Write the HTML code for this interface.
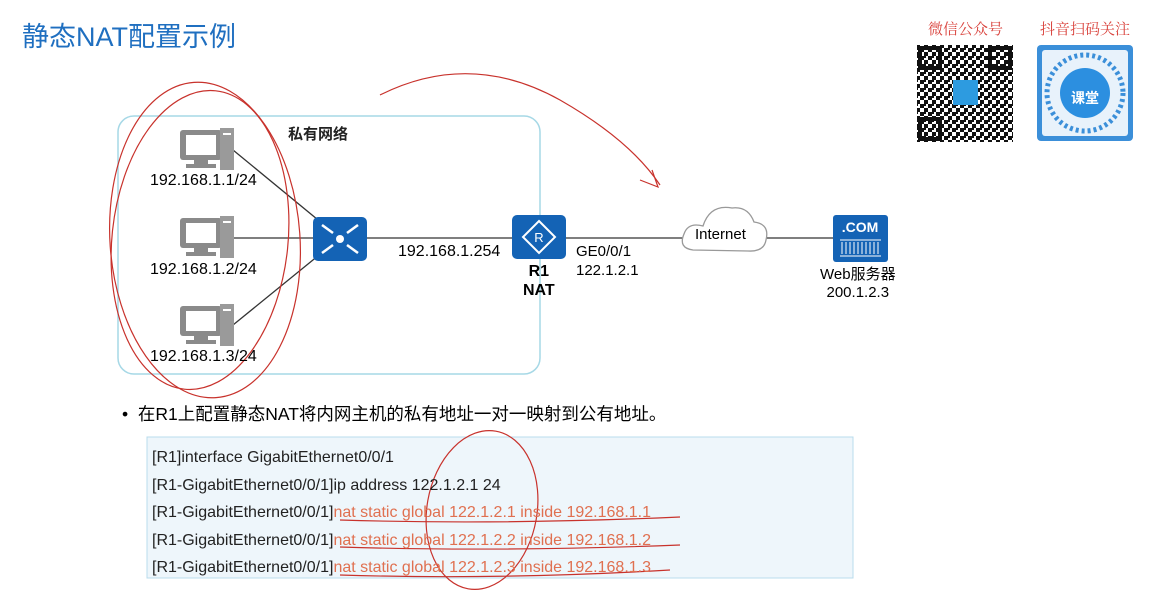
<!DOCTYPE html>
<html><head><meta charset="utf-8"><style>
body{margin:0;width:1173px;height:607px;background:#fff;overflow:hidden;font-family:"Liberation Sans","Noto Sans CJK SC",sans-serif;position:relative}
.a{position:absolute;white-space:nowrap}
</style></head><body>
<div class="a" style="left:22px;top:15px;font-size:27px;color:#1f6fc0">静态NAT配置示例</div>
<div class="a" style="left:928px;top:18px;font-size:15px;color:#d9413b;font-family:'Noto Serif CJK SC',serif">微信公众号</div>
<div class="a" style="left:1040px;top:18px;font-size:15px;color:#d9413b;font-family:'Noto Serif CJK SC',serif">抖音扫码关注</div>
<svg class="a" style="left:0;top:0" width="1173" height="607">
<defs>
<pattern id="qr" width="8" height="8" patternUnits="userSpaceOnUse"><rect width="4" height="4" fill="#111"/><rect x="4" y="4" width="4" height="4" fill="#111"/><rect x="4" width="2" height="2" fill="#111"/></pattern>
<g id="pc"><rect x="0" y="2" width="42" height="30" rx="3" fill="#8a8a8a"/><rect x="6" y="7" width="30" height="20" fill="#fff"/><rect x="14" y="32" width="14" height="4" fill="#8a8a8a"/><rect x="6" y="36" width="30" height="4" fill="#8a8a8a"/><rect x="40" y="0" width="14" height="42" fill="#9a9a9a"/><rect x="43" y="5" width="8" height="2" fill="#fff"/></g>
</defs>
<rect x="147" y="437" width="706" height="141" fill="#eef6fb" stroke="#b9dcec"/>
<rect x="118" y="116" width="422" height="258" rx="16" fill="none" stroke="#a6d8e6" stroke-width="1.5"/>
<line x1="233" y1="150" x2="340" y2="238" stroke="#333" stroke-width="1.3"/>
<line x1="233" y1="238" x2="840" y2="238" stroke="#333" stroke-width="1.3"/>
<line x1="233" y1="325" x2="340" y2="238" stroke="#333" stroke-width="1.3"/>
<use href="#pc" x="180" y="128"/><use href="#pc" x="180" y="216"/><use href="#pc" x="180" y="304"/>
<rect x="313" y="217" width="54" height="44" rx="5" fill="#1463b5"/>
<circle cx="340" cy="239" r="4" fill="#fff"/>
<g stroke="#fff" stroke-width="2.5"><line x1="322" y1="225" x2="333" y2="233"/><line x1="358" y1="225" x2="347" y2="233"/><line x1="322" y1="253" x2="333" y2="245"/><line x1="358" y1="253" x2="347" y2="245"/></g>
<rect x="512" y="215" width="54" height="44" rx="5" fill="#1463b5"/>
<path d="M539 221 L555 237 L539 253 L523 237Z" fill="none" stroke="#fff" stroke-width="2"/>
<text x="539" y="242" font-size="13" fill="#fff" text-anchor="middle">R</text>
<path d="M693 250 Q678 248 684 234 Q688 222 703 226 Q710 204 732 208 Q748 206 754 222 Q770 224 766 240 Q764 252 748 251 Z" fill="#fff" stroke="#999" stroke-width="1.3"/>
<rect x="833" y="215" width="55" height="47" rx="3" fill="#1463b5"/>
<text x="860" y="232" font-size="14" font-weight="bold" fill="#fff" text-anchor="middle">.COM</text>
<g stroke="#fff" stroke-width="1">
<line x1="840" y1="240" x2="881" y2="240"/><line x1="840" y1="256" x2="881" y2="256"/>
<path d="M842 242v12M846 242v12M850 242v12M854 242v12M858 242v12M862 242v12M866 242v12M870 242v12M874 242v12M878 242v12"/></g>
<rect x="917" y="45" width="96" height="97" fill="url(#qr)"/>
<g fill="none" stroke="#111" stroke-width="4"><rect x="920" y="48" width="20" height="20"/><rect x="990" y="48" width="20" height="20"/><rect x="920" y="119" width="20" height="20"/></g>
<rect x="953" y="80" width="25" height="25" fill="#2d9be0"/>
<rect x="1037" y="45" width="96" height="96" rx="4" fill="#3b8fd9"/>
<rect x="1042" y="50" width="86" height="86" rx="3" fill="#e8f2fb"/>
<circle cx="1085" cy="93" r="38" fill="none" stroke="#3b8fd9" stroke-width="5" stroke-dasharray="3 3"/>
<circle cx="1085" cy="93" r="25" fill="#2c8fe0"/>
<text x="1085" y="103" font-size="14" font-weight="bold" fill="#fff" text-anchor="middle" font-family="Noto Sans CJK SC">课堂</text>
<g fill="none" stroke="#c8322c" stroke-width="1.2">
<ellipse cx="205" cy="240" rx="95" ry="158" transform="rotate(-4 205 240)"/>
<ellipse cx="200" cy="240" rx="88" ry="150" transform="rotate(6 200 240)"/>
<path d="M380 95 Q470 50 560 100 Q630 140 660 185"/>
<path d="M640 180 L658 187 L652 170"/>
<ellipse cx="482" cy="510" rx="55" ry="80" transform="rotate(10 482 510)"/>
<path d="M340 520 Q500 525 680 517"/><path d="M340 547 Q500 552 680 545"/><path d="M340 575 Q500 580 670 570"/>
</g>
</svg>
<div class="a" style="left:288px;top:123px;font-size:15px;font-weight:bold;color:#222">私有网络</div>
<div class="a" style="left:150px;top:172px;font-size:16px">192.168.1.1/24</div>
<div class="a" style="left:150px;top:261px;font-size:16px">192.168.1.2/24</div>
<div class="a" style="left:150px;top:348px;font-size:16px">192.168.1.3/24</div>
<div class="a" style="left:398px;top:243px;font-size:16px">192.168.1.254</div>
<div class="a" style="left:523px;top:262px;font-size:16px;font-weight:bold;text-align:center;line-height:19px">R1<br>NAT</div>
<div class="a" style="left:576px;top:242px;font-size:15px;line-height:19px">GE0/0/1<br>122.1.2.1</div>
<div class="a" style="left:695px;top:226px;font-size:15px">Internet</div>
<div class="a" style="left:820px;top:266px;font-size:15px;text-align:center;line-height:18px">Web服务器<br>200.1.2.3</div>
<div class="a" style="left:122px;top:401px;font-size:17.5px">•&nbsp;&nbsp;在R1上配置静态NAT将内网主机的私有地址一对一映射到公有地址。</div>
<div class="a" style="left:152px;top:444px;font-size:16px;line-height:27.5px;color:#222">[R1]interface GigabitEthernet0/0/1<br>[R1-GigabitEthernet0/0/1]ip address 122.1.2.1 24<br>[R1-GigabitEthernet0/0/1]<span style="color:#e07050">nat static global 122.1.2.1 inside 192.168.1.1</span><br>[R1-GigabitEthernet0/0/1]<span style="color:#e07050">nat static global 122.1.2.2 inside 192.168.1.2</span><br>[R1-GigabitEthernet0/0/1]<span style="color:#e07050">nat static global 122.1.2.3 inside 192.168.1.3</span></div>
</body></html>
